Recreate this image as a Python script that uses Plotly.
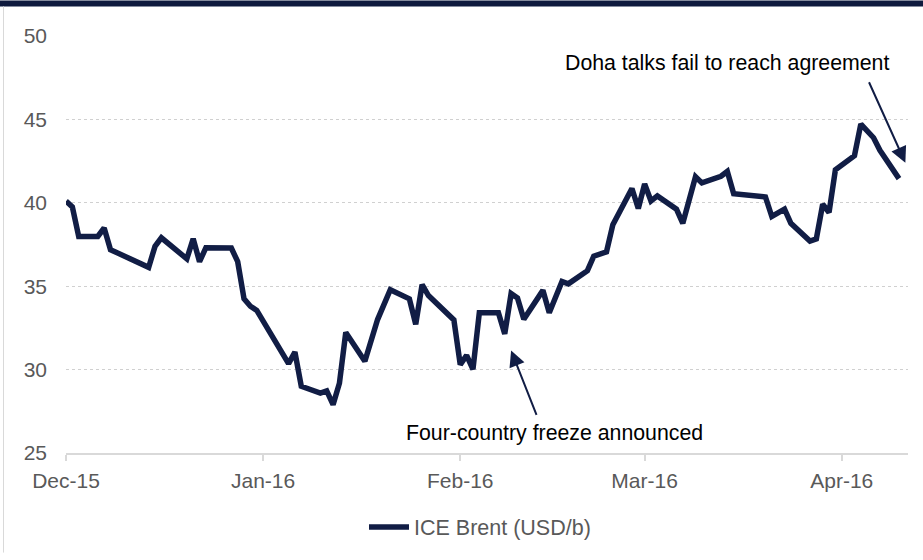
import plotly.graph_objects as go

# ---- data ----
dates = [
    "2015-12-01", "2015-12-02", "2015-12-03", "2015-12-06", "2015-12-07", "2015-12-08",
    "2015-12-14", "2015-12-15", "2015-12-16", "2015-12-20", "2015-12-21", "2015-12-22",
    "2015-12-23", "2015-12-27", "2015-12-28", "2015-12-29", "2015-12-30", "2015-12-31",
    "2016-01-05", "2016-01-06", "2016-01-07", "2016-01-10", "2016-01-11", "2016-01-12",
    "2016-01-13", "2016-01-14", "2016-01-17", "2016-01-19", "2016-01-21", "2016-01-24",
    "2016-01-25", "2016-01-26", "2016-01-27", "2016-01-31", "2016-02-01", "2016-02-02",
    "2016-02-03", "2016-02-04", "2016-02-07", "2016-02-08", "2016-02-09", "2016-02-10",
    "2016-02-11", "2016-02-14", "2016-02-15", "2016-02-17", "2016-02-18", "2016-02-21",
    "2016-02-22", "2016-02-24", "2016-02-25", "2016-02-28", "2016-02-29", "2016-03-01",
    "2016-03-02", "2016-03-03", "2016-03-06", "2016-03-07", "2016-03-09", "2016-03-10",
    "2016-03-13", "2016-03-14", "2016-03-15", "2016-03-20", "2016-03-21", "2016-03-23",
    "2016-03-24", "2016-03-27", "2016-03-28", "2016-03-29", "2016-03-30", "2016-03-31",
    "2016-04-03", "2016-04-04", "2016-04-06", "2016-04-07", "2016-04-10",
]
brent = [
    40.10, 39.75, 37.98, 37.98, 38.49, 37.19,
    36.13, 37.39, 37.90, 36.64, 37.84, 36.47,
    37.31, 37.29, 36.47, 34.24, 33.80, 33.55,
    30.36, 31.05, 29.00, 28.59, 28.72, 27.90,
    29.18, 32.23, 30.50, 33.00, 34.79, 34.24,
    32.72, 35.09, 34.44, 32.98, 30.30, 30.85,
    30.02, 33.41, 33.41, 32.14, 34.56, 34.30,
    33.02, 34.75, 33.41, 35.28, 35.14, 35.93,
    36.80, 37.06, 38.69, 40.86, 39.66, 41.13,
    40.11, 40.41, 39.62, 38.77, 41.56, 41.19,
    41.59, 41.88, 40.54, 40.35, 39.18, 39.62,
    38.77, 37.71, 37.84, 39.91, 39.42, 41.98,
    42.83, 44.72, 43.90, 43.15, 41.45,
]
series_name = "ICE Brent (USD/b)"
x_tickvals = ["2015-12-01", "2016-01-01", "2016-02-01", "2016-03-01", "2016-04-01"]
x_ticktext = ["Dec-15", "Jan-16", "Feb-16", "Mar-16", "Apr-16"]
y_tickvals = [25, 30, 35, 40, 45, 50]

NAVY = "#111d45"
GREY_TXT = "#595959"
FONT = "Liberation Sans, Arial, sans-serif"

fig = go.Figure()
fig.add_trace(go.Scatter(
    x=dates, y=brent, mode="lines", name=series_name,
    line=dict(color=NAVY, width=5.5),
))

# plot area pixels: left 66, right 908, top 36, bottom 459
L, R, T, B = 66, 908, 36, 459
W, H = 923, 560
def px(X):
    return (X - L) / (R - L)
def py(Y):
    return (B - Y) / (B - T)

fig.update_layout(
    width=W, height=H,
    margin=dict(l=L, r=W - R, t=T, b=H - B),
    paper_bgcolor="white", plot_bgcolor="white",
    font=dict(family=FONT, size=21, color=GREY_TXT),
    showlegend=True,
    legend=dict(orientation="h", x=px(480), xanchor="center", y=py(534), yanchor="middle",
                font=dict(size=21.5, color=GREY_TXT), itemwidth=40),
    xaxis=dict(
        type="date",
        range=["2015-12-01", "2016-04-11 10:00"],
        tickvals=x_tickvals, ticktext=x_ticktext,
        showgrid=False, zeroline=False,
        showline=True, linecolor="#d9d9d9", linewidth=1.5,
        ticks="outside", ticklen=6, tickcolor="#d9d9d9", tickwidth=1.5,
        tickfont=dict(size=21, color=GREY_TXT),
        ticklabelstandoff=2,
    ),
    yaxis=dict(
        range=[25, 50], tickvals=y_tickvals,
        showgrid=True, gridcolor="#d0d0d0", griddash="dot", gridwidth=1,
        zeroline=False, showline=False, ticks="",
        tickfont=dict(size=21, color=GREY_TXT),
        ticklabelstandoff=18,
    ),
    shapes=[
        dict(type="rect", xref="paper", yref="paper",
             x0=px(0), x1=px(W), y0=py(6), y1=py(0),
             fillcolor="#0f1a3e", line=dict(width=0), layer="above"),
        dict(type="line", xref="paper", yref="paper",
             x0=px(3.5), x1=px(3.5), y0=py(6), y1=py(H),
             line=dict(color="#d9d9d9", width=1)),
    ],
    annotations=[
        dict(text="Doha talks fail to reach agreement", xref="paper", yref="paper",
             x=px(727), y=py(63), xanchor="center", yanchor="middle", showarrow=False,
             font=dict(size=21.3, color="black", family=FONT)),
        dict(text="", x="2016-04-11", y=42.4, xref="x", yref="y",
             showarrow=True, ax=-37, ay=-82, arrowhead=2, arrowsize=1.6,
             arrowwidth=2, arrowcolor=NAVY),
        dict(text="Four-country freeze announced", xref="paper", yref="paper",
             x=px(554), y=py(439), xanchor="center", yanchor="middle", showarrow=False,
             font=dict(size=21.3, color="black", family=FONT)),
        dict(text="", x="2016-02-09", y=31.15, xref="x", yref="y",
             showarrow=True, ax=26, ay=66, arrowhead=2, arrowsize=1.6,
             arrowwidth=2, arrowcolor=NAVY),
    ],
)

fig.write_html("out.html", config={"displayModeBar": False},
               post_script="document.body.style.margin='0';")
